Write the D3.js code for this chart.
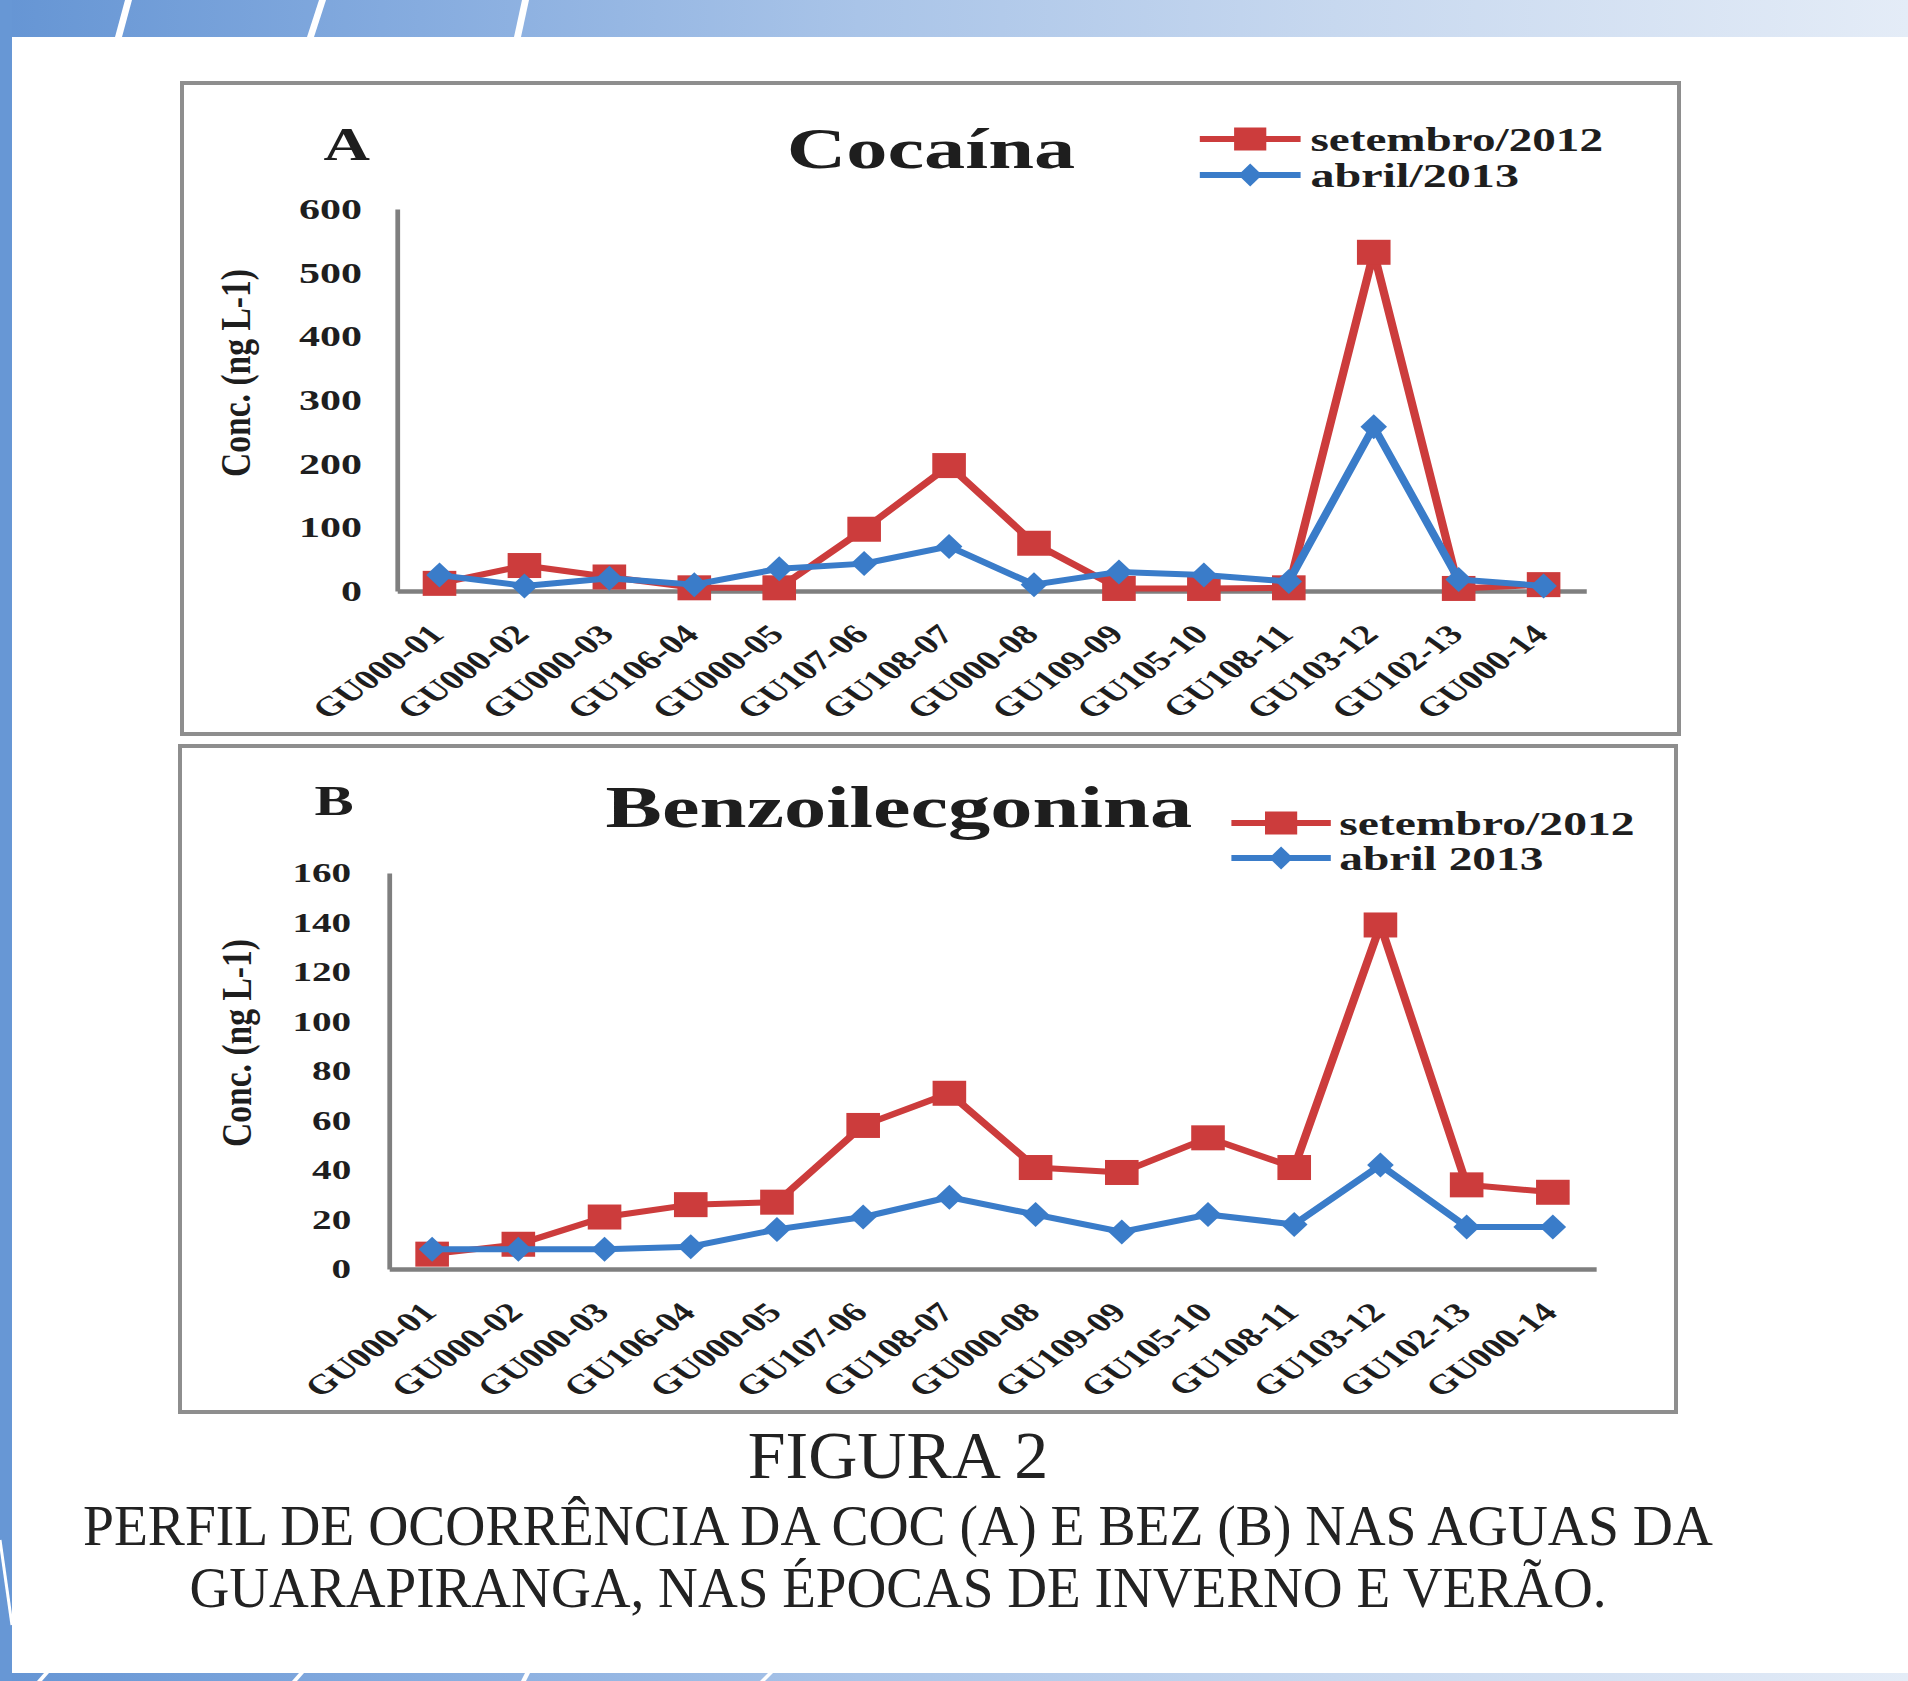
<!DOCTYPE html>
<html><head><meta charset="utf-8">
<script src="https://cdn.jsdelivr.net/npm/d3@7"></script>
<style>html,body{margin:0;padding:0;background:#fff;} svg{display:block;}</style>
</head><body>
<svg id="c" width="1908" height="1681"></svg>
<script>
// ---------------- data ----------------
const categories = ["GU000-01","GU000-02","GU000-03","GU106-04","GU000-05","GU107-06","GU108-07","GU000-08","GU109-09","GU105-10","GU108-11","GU103-12","GU102-13","GU000-14"];
const cocaSet2012 = [12, 40, 22, 5, 5, 97, 197, 75, 4, 4, 5, 532, 4, 10];
const cocaAbr2013 = [25, 8, 20, 10, 35, 43, 70, 10, 30, 25, 15, 258, 18, 8];
const bzeSet2012 = [6, 10, 21, 26, 27, 58, 71, 41, 39, 53, 41, 139, 34, 31];
const bzeAbr2013 = [8, 8, 8, 9, 16, 21, 29, 22, 15, 22, 18, 42, 17, 17];
const yTicksA = [0, 100, 200, 300, 400, 500, 600];
const yTicksB = [0, 20, 40, 60, 80, 100, 120, 140, 160];
const legendA = ["setembro/2012", "abril/2013"];
const legendB = ["setembro/2012", "abril 2013"];
const titles = ["Cocaína", "Benzoilecgonina"];
const letters = ["A", "B"];
const yTitle = "Conc. (ng L-1)";
const caption = ["FIGURA 2", "PERFIL DE OCORRÊNCIA DA COC (A) E BEZ (B) NAS AGUAS DA", "GUARAPIRANGA, NAS ÉPOCAS DE INVERNO E VERÃO."];

// ---------------- style ----------------
const SERIF = "'Liberation Serif','DejaVu Serif',serif";
const RED = "#cc3c3c", BLUE = "#3a7cc9", AXIS = "#7f7f7f", INK = "#1e1e1e";
const SX = 1.4; // horizontal stretch of the chart panels

const svg = d3.select("#c");
const defs = svg.append("defs");
const grad = defs.append("linearGradient").attr("id", "band").attr("x1", 0).attr("x2", 1).attr("y1", 0).attr("y2", 0);
[[0, "#6595d4"], [0.22, "#86acdf"], [0.45, "#a9c4e8"], [0.7, "#c7d8ef"], [1, "#e4ecf7"]]
  .forEach(([o, c]) => grad.append("stop").attr("offset", o).attr("stop-color", c));

// page decoration
svg.append("rect").attr("x", 0).attr("y", 0).attr("width", 1908).attr("height", 1681).attr("fill", "#fff");
svg.append("rect").attr("x", 0).attr("y", 0).attr("width", 1908).attr("height", 37).attr("fill", "url(#band)");
svg.append("rect").attr("x", 0).attr("y", 1673).attr("width", 1908).attr("height", 8).attr("fill", "url(#band)");
svg.append("rect").attr("x", 0).attr("y", 0).attr("width", 12).attr("height", 1681).attr("fill", "#6797d5");
[[118, 128], [310, 322], [517, 525]].forEach(([b, t]) =>
  svg.append("polygon").attr("points", `${b - 3},37 ${b + 4},37 ${t + 4},0 ${t - 3},0`).attr("fill", "#fff"));
[[37, 49], [292, 304], [521, 530], [760, 773]].forEach(([b, t]) =>
  svg.append("polygon").attr("points", `${b},1681 ${b + 5},1681 ${t},1673 ${t - 5},1673`).attr("fill", "#fff"));
svg.append("line").attr("x1", 0).attr("y1", 1540).attr("x2", 12).attr("y2", 1625).attr("stroke", "#fff").attr("stroke-width", 3);

const diamond = (hw, hh) => `M0,${-hh}L${hw},0L0,${hh}L${-hw},0Z`;

function panel(cfg) {
  svg.append("rect")
    .attr("x", cfg.box[0]).attr("y", cfg.box[1])
    .attr("width", cfg.box[2] - cfg.box[0]).attr("height", cfg.box[3] - cfg.box[1])
    .attr("fill", "none").attr("stroke", "#8e8e8e").attr("stroke-width", 4);

  const g = svg.append("g").attr("transform", `translate(${cfg.ox},${cfg.oy}) scale(${SX},1)`);
  const x = d3.scalePoint().domain(categories).range([cfg.x0, cfg.x1]).padding(0.5);
  const y = d3.scaleLinear().domain([0, cfg.ymax]).range([cfg.y0, cfg.y1]);

  // y axis
  const ya = g.append("g").attr("transform", `translate(${cfg.x0},0)`)
    .call(d3.axisLeft(y).tickValues(cfg.ticks).tickSize(0).tickPadding(cfg.tpad).tickFormat(d3.format("d")));
  ya.select(".domain").attr("stroke", AXIS).attr("stroke-width", 3.4);
  ya.selectAll("text").attr("font-family", SERIF).attr("font-weight", "bold")
    .attr("font-size", cfg.tfs).attr("fill", INK);

  // x axis
  const xa = g.append("g").attr("transform", `translate(0,${cfg.y0})`)
    .call(d3.axisBottom(x).tickSize(0).tickSizeOuter(0));
  xa.select(".domain").attr("stroke", AXIS).attr("stroke-width", 4.5);
  xa.selectAll("text").attr("font-family", SERIF).attr("font-weight", "bold")
    .attr("font-size", 27.5).attr("fill", INK)
    .attr("x", 0).attr("y", 0).attr("dy", 0)
    .attr("text-anchor", "end")
    .attr("transform", "translate(4,45) rotate(-45)");

  // y title
  g.append("text").attr("transform", `translate(${cfg.ytx},${cfg.yty}) rotate(-90)`)
    .attr("text-anchor", "middle").attr("dy", "0.35em")
    .attr("font-family", SERIF).attr("font-weight", "bold").attr("font-size", 30)
    .attr("textLength", 208).attr("lengthAdjust", "spacingAndGlyphs")
    .attr("fill", INK).text(yTitle);

  // letter and title
  g.append("text").attr("x", cfg.lx).attr("y", cfg.ly)
    .attr("font-family", SERIF).attr("font-weight", "bold").attr("font-size", cfg.lfs)
    .attr("fill", INK).text(cfg.letter);
  g.append("text").attr("x", cfg.tx).attr("y", cfg.ty)
    .attr("font-family", SERIF).attr("font-weight", "bold").attr("font-size", cfg.tsz)
    .attr("textLength", cfg.tlen).attr("lengthAdjust", "spacingAndGlyphs")
    .attr("fill", INK).text(cfg.title);

  // series
  const series = [
    { vals: cfg.red, color: RED, kind: "sq", name: cfg.legend[0], len: cfg.leg.len[0] },
    { vals: cfg.blue, color: BLUE, kind: "dm", name: cfg.legend[1], len: cfg.leg.len[1] }
  ];
  const line = d3.line().x((d, i) => x(categories[i])).y(d => y(d));
  series.forEach(s => {
    g.append("path").datum(s.vals).attr("d", line)
      .attr("fill", "none").attr("stroke", s.color).attr("stroke-width", 6)
      .attr("stroke-linejoin", "round");
    const m = g.append("g").selectAll("g").data(s.vals).join("g")
      .attr("transform", (d, i) => `translate(${x(categories[i])},${y(d)})`);
    if (s.kind === "sq") m.append("rect").attr("x", -12).attr("y", -12.5).attr("width", 24).attr("height", 25).attr("fill", s.color);
    else m.append("path").attr("d", diamond(9.5, 12.5)).attr("fill", s.color);
  });

  // legend
  series.forEach((s, k) => {
    const ly = cfg.leg.ys[k];
    g.append("line").attr("x1", cfg.leg.x1).attr("x2", cfg.leg.x2).attr("y1", ly).attr("y2", ly)
      .attr("stroke", s.color).attr("stroke-width", 6);
    const mx = (cfg.leg.x1 + cfg.leg.x2) / 2;
    if (s.kind === "sq") g.append("rect").attr("x", mx - 11.5).attr("y", ly - 11.5).attr("width", 23).attr("height", 23).attr("fill", s.color);
    else g.append("path").attr("transform", `translate(${mx},${ly})`).attr("d", diamond(8.5, 11.5)).attr("fill", s.color);
    g.append("text").attr("x", cfg.leg.tx).attr("y", ly + 12)
      .attr("font-family", SERIF).attr("font-weight", "bold").attr("font-size", 34)
      .attr("textLength", s.len).attr("lengthAdjust", "spacingAndGlyphs")
      .attr("fill", INK).text(s.name);
  });
}

panel({
  box: [182, 83, 1679, 734], ox: 182, oy: 83,
  x0: 153.6, x1: 1002.9, y0: 508, y1: 126, ymax: 600, ticks: yTicksA, tpad: 25, tfs: 30,
  ytx: 38, yty: 290, letter: letters[0], lx: 101, ly: 77, lfs: 46,
  title: titles[0], tx: 432, ty: 85, tsz: 58, tlen: 206,
  red: cocaSet2012, blue: cocaAbr2013, legend: legendA,
  leg: { x1: 727, x2: 799, ys: [56, 92], tx: 806, len: [209, 149] }
});
panel({
  box: [180, 746, 1676, 1412], ox: 180, oy: 746,
  x0: 149.3, x1: 1011.4, y0: 523, y1: 127, ymax: 160, ticks: yTicksB, tpad: 27, tfs: 28,
  ytx: 40, yty: 297, letter: letters[1], lx: 96, ly: 69, lfs: 42,
  title: titles[1], tx: 304, ty: 81, tsz: 60, tlen: 419,
  red: bzeSet2012, blue: bzeAbr2013, legend: legendB,
  leg: { x1: 751, x2: 822, ys: [77, 112], tx: 828, len: [211, 146] }
});

// caption
const capSpec = [
  { y: 1478, size: 68, len: null },
  { y: 1545, size: 58, len: 1630 },
  { y: 1607, size: 58, len: 1417 }
];
caption.forEach((t, i) => {
  const el = svg.append("text").attr("x", 898).attr("y", capSpec[i].y)
    .attr("text-anchor", "middle").attr("font-family", SERIF)
    .attr("font-size", capSpec[i].size).attr("fill", "#222").text(t);
  if (capSpec[i].len) el.attr("textLength", capSpec[i].len).attr("lengthAdjust", "spacingAndGlyphs");
});
</script>
</body></html>
